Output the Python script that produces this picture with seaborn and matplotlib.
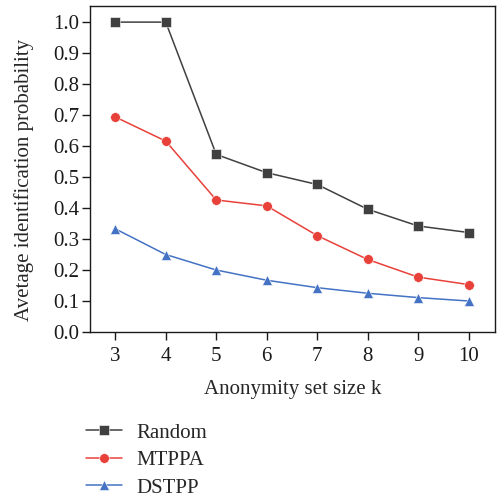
import matplotlib
matplotlib.use("Agg")
import matplotlib.pyplot as plt
import seaborn as sns
import pandas as pd

k_values = [3, 4, 5, 6, 7, 8, 9, 10]
random_vals = [1.0, 1.0, 0.573, 0.514, 0.476, 0.396, 0.342, 0.321]
mtppa_vals = [0.694, 0.616, 0.426, 0.407, 0.311, 0.234, 0.177, 0.153]
dstpp_vals = [0.333, 0.250, 0.200, 0.167, 0.143, 0.125, 0.111, 0.100]
methods = ["Random", "MTPPA", "DSTPP"]
y_ticks = [0.0, 0.1, 0.2, 0.3, 0.4, 0.5, 0.6, 0.7, 0.8, 0.9, 1.0]

rows = []
for m, vals in zip(methods, [random_vals, mtppa_vals, dstpp_vals]):
    for k, v in zip(k_values, vals):
        rows.append({"k": k, "value": v, "method": m})
df = pd.DataFrame(rows)

sns.set_style("ticks")
plt.rcParams["font.family"] = ["Liberation Serif", "DejaVu Serif"]
FS = 15
plt.rcParams["font.size"] = FS

fig = plt.figure(figsize=(4.98, 4.97), dpi=100)
ax = fig.add_axes([90 / 498, 1 - 332 / 497, 405 / 498, 326 / 497])

palette = {"Random": "#404040", "MTPPA": "#e8413a", "DSTPP": "#4472c4"}
markers = {"Random": "s", "MTPPA": "o", "DSTPP": "^"}
sns.lineplot(data=df, x="k", y="value", hue="method", style="method",
             palette=palette, markers=markers, dashes=False, ax=ax,
             markersize=7, linewidth=1.1, markeredgewidth=0.4,
             markeredgecolor="white")

ax.set_xlim(2.5, 10.52)
ax.set_ylim(0.0, 1.052)
ax.set_xticks(k_values)
ax.set_yticks(y_ticks)
ax.set_yticklabels([f"{t:.1f}" for t in y_ticks])
ax.tick_params(axis="both", direction="out", length=6, width=1.0,
               labelsize=FS, colors="#1a1a1a")
ax.tick_params(axis="y", pad=2)
ax.tick_params(axis="x", pad=5)
for s in ax.spines.values():
    s.set_linewidth(1.0)
    s.set_color("#1a1a1a")
ax.set_xlabel("Anonymity set size k", fontsize=FS, labelpad=10)
ax.set_ylabel("Avetage identification probability", fontsize=FS)
ax.yaxis.set_label_coords(-0.138, 0.466)

handles, labels = ax.get_legend_handles_labels()
ax.legend(handles=handles, labels=labels, loc="upper left",
          bbox_to_anchor=(86 / 498, 1 - 423 / 497), bbox_transform=fig.transFigure,
          frameon=False, fontsize=FS, handlelength=1.75, labelspacing=0.38,
          handletextpad=0.65, borderaxespad=0, borderpad=0)

fig.savefig("out.png", dpi=100)
